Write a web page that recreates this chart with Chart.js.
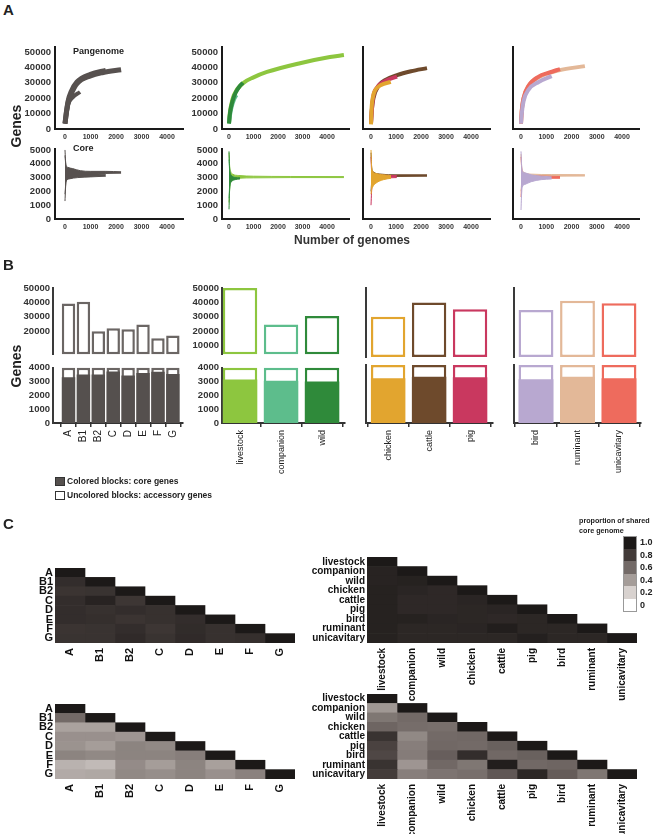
<!DOCTYPE html>
<html>
<head>
<meta charset="utf-8">
<script src="https://cdn.jsdelivr.net/npm/chart.js@4.4.0/dist/chart.umd.min.js"></script>
<style>
body{margin:0;background:#fff;width:654px;height:834px;position:relative;overflow:hidden;font-family:"Liberation Sans",Arial,sans-serif;}
canvas{position:absolute;}
.t{position:absolute;font-weight:bold;color:#222;white-space:nowrap;line-height:1;}
.rot{transform:translate(-50%,-50%) rotate(-90deg);}
.sw{position:absolute;box-sizing:border-box;}
</style>
</head>
<body>
<script>
// ---------- panel A: accumulation curves ----------
const genomeTicks = [0, 1000, 2000, 3000, 4000];
const panTicks = [0, 10000, 20000, 30000, 40000, 50000];
const coreTicks = [0, 1000, 2000, 3000, 4000, 5000];

// pangenome points: [genomes, genes]
const panPhyloA = [[0,3500],[50,10000],[120,17000],[250,23000],[470,29500],[1000,34500],[1500,36700],[2200,38500]];
const panPhyloB = [[0,3500],[50,10500],[120,18000],[250,24500],[470,30500],[1000,35500],[1600,38000]];
const panPhyloC = [[0,3500],[50,9000],[130,16000],[300,20500],[590,24000]];
const panLivestock = [[0,3600],[30,10000],[80,15000],[200,22000],[570,29700],[1000,33500],[1550,37000],[2900,42700],[4120,46700],[4690,48000]];
const panCompanion = [[0,3600],[40,9000],[100,14000],[200,19000],[300,22000]];
const panWild = [[0,3600],[30,9000],[80,14000],[200,21000],[400,27000],[570,30000]];
const panChicken = [[0,3000],[30,15000],[80,21000],[160,25000],[400,28500],[790,30600]];
const panCattle = [[0,3600],[30,12000],[100,20000],[300,28000],[600,32000],[1040,35000],[1600,37500],[2240,39500]];
const panPig = [[0,3600],[30,11000],[80,20000],[250,27000],[560,31000],[1040,34000]];
const panBird = [[0,3500],[30,10000],[100,18000],[300,25500],[700,30500],[1215,34300]];
const panRuminant = [[0,3500],[30,12000],[100,20000],[300,28000],[700,33500],[1500,38000],[2530,40800]];
const panUnicavitary = [[0,3500],[30,12000],[100,20000],[300,28000],[700,34000],[1100,36500],[1545,38900]];

// core genome bands: [genomes, low, high]
const corePhyloA = [[0,1300,5000],[15,2000,4400],[40,2700,3900],[100,2900,3750],[300,3000,3650],[600,3150,3500],[1000,3250,3450],[1600,3300,3450],[2200,3320,3420]];
const corePhyloB = [[0,1800,4600],[40,2700,3800],[150,2900,3600],[500,3000,3400],[1000,3050,3300],[1600,3100,3250]];
const coreLivestock = [[0,1200,4800],[20,2000,4000],[60,2600,3500],[150,2850,3250],[400,2950,3150],[1000,2980,3100],[2500,3000,3080],[4690,3000,3070]];
const coreCompanion = [[0,1500,4300],[30,2500,3400],[100,2800,3100],[250,2900,3020]];
const coreWild = [[0,700,4900],[15,1700,4000],[40,2400,3400],[100,2700,3150],[250,2850,3000],[450,2900,2980]];
const coreChicken = [[0,1800,5000],[20,2100,3900],[60,2300,3500],[200,2600,3300],[500,2850,3200],[800,2950,3150]];
const coreCattle = [[0,2000,4800],[30,2700,3700],[100,2950,3400],[400,3050,3250],[1000,3080,3200],[2240,3100,3200]];
const corePig = [[0,1000,4500],[20,1900,3600],[80,2700,3300],[300,2900,3200],[700,2980,3150],[1030,3000,3150]];
const coreBird = [[0,650,4900],[15,1500,4200],[50,2300,3500],[150,2500,3350],[400,2700,3200],[800,2850,3100],[1215,2900,3050]];
const coreRuminant = [[0,2000,4700],[30,2700,3700],[100,2950,3400],[400,3050,3250],[1200,3100,3220],[2530,3110,3210]];
const coreUnicavitary = [[0,1600,4500],[30,2500,3600],[100,2800,3300],[400,2900,3150],[1000,2950,3100],[1545,2950,3080]];

// ---------- panel B: gene counts ----------
const phylogroups = ['A','B1','B2','C','D','E','F','G'];
const phyloPan = [39300, 40400, 20000, 22000, 21300, 24700, 15100, 17100];
const phyloCore = [3310, 3500, 3500, 3720, 3430, 3610, 3700, 3540];
const hostGroups = ['livestock','companion','wild'];
const hostPan = [50000, 24700, 30500];
const hostCore = [3150, 3060, 3010];
const livestockGroups = ['chicken','cattle','pig'];
const livestockPan = [30900, 40400, 35800];
const livestockCore = [3080, 3190, 3150];
const gutGroups = ['bird','ruminant','unicavitary'];
const gutPan = [35300, 41500, 39800];
const gutCore = [3010, 3190, 3080];
const upperTicksPhylo = [20000, 30000, 40000, 50000];
const upperTicksHost = [10000, 20000, 30000, 40000, 50000];
const lowerTicks = [0, 1000, 2000, 3000, 4000];

// ---------- panel C: proportion of shared core genome (lower triangles) ----------
const hostRows = ['livestock','companion','wild','chicken','cattle','pig','bird','ruminant','unicavitary'];
const phyloShared1 = [
  [1],
  [0.88, 1],
  [0.84, 0.85, 1],
  [0.88, 0.94, 0.83, 1],
  [0.88, 0.86, 0.88, 0.86, 1],
  [0.88, 0.87, 0.84, 0.86, 0.88, 1],
  [0.84, 0.85, 0.88, 0.83, 0.89, 0.86, 1],
  [0.85, 0.85, 0.90, 0.85, 0.90, 0.86, 0.87, 1]
];
const phyloShared2 = [
  [1],
  [0.60, 1],
  [0.38, 0.38, 1],
  [0.45, 0.45, 0.43, 1],
  [0.44, 0.40, 0.50, 0.48, 1],
  [0.50, 0.48, 0.50, 0.50, 0.52, 1],
  [0.32, 0.29, 0.47, 0.40, 0.50, 0.39, 1],
  [0.35, 0.36, 0.48, 0.46, 0.50, 0.45, 0.51, 1]
];
const hostShared1 = [
  [1],
  [0.94, 1],
  [0.94, 0.95, 1],
  [0.95, 0.93, 0.91, 1],
  [0.95, 0.91, 0.91, 0.93, 1],
  [0.95, 0.91, 0.91, 0.92, 0.93, 1],
  [0.95, 0.95, 0.93, 0.92, 0.91, 0.92, 1],
  [0.95, 0.92, 0.92, 0.93, 0.97, 0.92, 0.92, 1],
  [0.95, 0.92, 0.92, 0.92, 0.92, 0.96, 0.92, 0.92, 1]
];
const hostShared2 = [
  [1],
  [0.42, 1],
  [0.55, 0.60, 1],
  [0.62, 0.59, 0.58, 1],
  [0.85, 0.48, 0.60, 0.61, 1],
  [0.77, 0.52, 0.61, 0.60, 0.64, 1],
  [0.75, 0.53, 0.65, 0.88, 0.61, 0.64, 1],
  [0.85, 0.43, 0.61, 0.55, 0.97, 0.61, 0.62, 1],
  [0.80, 0.52, 0.56, 0.58, 0.68, 0.92, 0.66, 0.55, 1]
];
const legendLevels = [1.0, 0.8, 0.6, 0.4, 0.2, 0];

// ---------- colours ----------
const cPhyloLine = '#57514f', cPhyloFill = '#55504e', cPhyloEdge = '#6b6664';
const cLivestock = '#8dc63f', cCompanion = '#5dbd8c', cWild = '#2f8a3a';
const cChicken = '#e2a52f', cCattle = '#6e4a2c', cPig = '#c9385f';
const cBird = '#b8a8d0', cRuminant = '#e3b898', cUnicavitary = '#ee6b5d';

const FONT = '"Liberation Sans", Arial, sans-serif';
Chart.defaults.font.family = FONT;
Chart.defaults.color = '#222';
Chart.defaults.plugins.legend.display = false;
Chart.defaults.plugins.tooltip.enabled = false;

// canvas placed so that its chart area lands on plot = [left, top, right, bottom]
function canvasAt(plot, m) {
  const c = document.createElement('canvas');
  const w = plot[2] - plot[0] + m[0] + m[2];
  const h = plot[3] - plot[1] + m[1] + m[3];
  c.width = w; c.height = h;
  c.style.left = (plot[0] - m[0]) + 'px';
  c.style.top = (plot[1] - m[1]) + 'px';
  c.style.width = w + 'px'; c.style.height = h + 'px';
  document.body.appendChild(c);
  return c;
}

function toXY(pts) { return pts.map(p => ({x: p[0], y: p[1]})); }

function panLine(pts, col, width, order) {
  return {data: toXY(pts), borderColor: col, borderWidth: width, fill: false, order: order};
}

function coreBand(pts, col, order) {
  return [
    {data: pts.map(p => ({x: p[0], y: p[1]})), borderColor: col, borderWidth: 1, fill: false, order: order},
    {data: pts.map(p => ({x: p[0], y: p[2]})), borderColor: col, borderWidth: 1, backgroundColor: col, fill: '-1', order: order}
  ];
}

function curveChart(plot, m, xr, yMax, yTicks, showY, datasets) {
  new Chart(canvasAt(plot, m), {
    type: 'line',
    data: {datasets: datasets},
    options: {
      responsive: false, animation: false,
      layout: {padding: {left: 0, top: m[1], right: m[2], bottom: 0}},
      elements: {point: {radius: 0}, line: {cubicInterpolationMode: 'monotone'}},
      scales: {
        x: {
          type: 'linear', min: xr[0], max: xr[1], offset: false,
          afterBuildTicks: s => { s.ticks = genomeTicks.map(v => ({value: v})); },
          afterFit: s => { s.height = m[3]; },
          grid: {display: false, drawTicks: false},
          border: {display: true, color: '#1a1a1a', width: 2},
          ticks: {padding: 4, color: '#333', font: {size: 7, weight: 'bold'}, maxRotation: 0, autoSkip: false, callback: v => String(v)}
        },
        y: {
          type: 'linear', min: 0, max: yMax,
          afterBuildTicks: s => { s.ticks = yTicks.map(v => ({value: v})); },
          afterFit: s => { s.width = m[0]; },
          grid: {display: false, drawTicks: false},
          border: {display: true, color: '#1a1a1a', width: 2},
          ticks: {display: showY, padding: 4, color: '#333', font: {size: 9.5, weight: 'bold'}, autoSkip: false, callback: v => String(v)}
        }
      }
    }
  });
}

const breakAt = 4000;

function barGroup(upPlot, lowPlot, mUp, mLow, xr, names, pan, core, fillCols, edgeCols, upTicks, showY, frac, labelSize) {
  const xBase = {
    type: 'linear', min: xr[0], max: xr[1], offset: false
  };
  new Chart(canvasAt(upPlot, mUp), {
    type: 'bar',
    data: {datasets: [{
      data: pan.map((v, i) => ({x: i, y: [breakAt, v]})),
      backgroundColor: '#fff', borderColor: edgeCols, borderWidth: 2.5, borderSkipped: false,
      clip: false, barPercentage: frac, categoryPercentage: 1
    }]},
    options: {
      responsive: false, animation: false,
      layout: {padding: {left: 0, top: mUp[1], right: mUp[2], bottom: 0}},
      scales: {
        x: Object.assign({}, xBase, {
          afterFit: s => { s.height = mUp[3]; },
          grid: {display: false, drawTicks: false}, border: {display: false}, ticks: {display: false}
        }),
        y: {
          type: 'linear', min: breakAt, max: 50000,
          afterBuildTicks: s => { s.ticks = upTicks.map(v => ({value: v})); },
          afterFit: s => { s.width = mUp[0]; },
          grid: {display: false, drawTicks: false},
          border: {display: true, color: '#3a3a3a', width: 2},
          ticks: {display: showY, padding: 3, color: '#333', font: {size: 9.5, weight: 'bold'}, autoSkip: false, callback: v => String(v)}
        }
      }
    }
  });
  new Chart(canvasAt(lowPlot, mLow), {
    type: 'bar',
    data: {datasets: [
      {data: core.map((v, i) => ({x: i, y: [0, v]})), backgroundColor: fillCols, borderWidth: 0,
       grouped: false, barPercentage: frac, categoryPercentage: 1},
      {data: core.map((v, i) => ({x: i, y: [0, breakAt]})), backgroundColor: '#fff', borderColor: edgeCols,
       borderWidth: 2.5, borderSkipped: false, grouped: false, clip: false, barPercentage: frac, categoryPercentage: 1}
    ]},
    options: {
      responsive: false, animation: false,
      layout: {padding: {left: 0, top: mLow[1], right: mLow[2], bottom: 0}},
      scales: {
        x: Object.assign({}, xBase, {
          afterBuildTicks: s => { s.ticks = names.map((n, i) => ({value: i})); },
          afterFit: s => { s.height = mLow[3]; },
          grid: {display: true, drawOnChartArea: false, drawTicks: true, tickLength: 4, color: '#333', lineWidth: 1.5},
          border: {display: true, color: '#333', width: 2},
          ticks: {padding: 3, color: '#222', font: {size: labelSize}, minRotation: 90, maxRotation: 90, autoSkip: false,
                  callback: v => names[Math.round(v)]}
        }),
        y: {
          type: 'linear', min: 0, max: breakAt,
          afterBuildTicks: s => { s.ticks = lowerTicks.map(v => ({value: v})); },
          afterFit: s => { s.width = mLow[0]; },
          grid: {display: false, drawTicks: false},
          border: {display: true, color: '#3a3a3a', width: 2},
          ticks: {display: showY, padding: 3, color: '#333', font: {size: 9.5, weight: 'bold'}, autoSkip: false, callback: v => String(v)}
        }
      }
    }
  });
}

// grey ramp through the colour-bar stops
const rampStops = [[0, [255,255,255]], [0.2, [216,210,207]], [0.4, [165,157,153]], [0.6, [115,106,103]], [0.8, [67,59,57]], [1, [28,25,24]]];
function shade(v) {
  for (let k = 1; k < rampStops.length; k++) {
    if (v <= rampStops[k][0]) {
      const a = rampStops[k-1], b = rampStops[k];
      const t = (v - a[0]) / (b[0] - a[0]);
      const c = a[1].map((x, i) => Math.round(x + (b[1][i] - x) * t));
      return 'rgb(' + c.join(',') + ')';
    }
  }
  return 'rgb(28,25,24)';
}

function heatmap(plot, m, rows, vals, fontSize) {
  const datasets = rows.map((col, j) => ({
    data: rows.map((r, i) => i >= j ? [j, j + 1] : null),
    backgroundColor: rows.map((r, i) => i >= j ? shade(vals[i][j]) : 'rgba(0,0,0,0)'),
    borderWidth: 0, grouped: false, barPercentage: 1, categoryPercentage: 1
  }));
  new Chart(canvasAt(plot, m), {
    type: 'bar',
    data: {labels: rows, datasets: datasets},
    options: {
      indexAxis: 'y', responsive: false, animation: false,
      layout: {padding: {left: 0, top: m[1], right: m[2], bottom: 0}},
      scales: {
        x: {
          type: 'linear', min: 0, max: rows.length,
          afterBuildTicks: s => { s.ticks = rows.map((r, j) => ({value: j + 0.5})); },
          afterFit: s => { s.height = m[3]; },
          grid: {display: false, drawTicks: false}, border: {display: false},
          ticks: {padding: 5, color: '#111', font: {size: fontSize, weight: 'bold'}, minRotation: 90, maxRotation: 90,
                  autoSkip: false, callback: (v, i) => rows[i]}
        },
        y: {
          afterFit: s => { s.width = m[0]; },
          grid: {display: false, drawTicks: false}, border: {display: false},
          ticks: {padding: 2, color: '#111', font: {size: fontSize, weight: 'bold'}, autoSkip: false}
        }
      }
    }
  });
}

// ---------- panel A ----------
const topRow = [47, 129], botRow = [149, 219];
const colsA = [[55, 183, -392, 4627, 55], [222, 349, -286, 4898, 42], [363, 490, -320, 4760, 10], [513, 639, -317, 4673, 10]];
const panSets = [
  [panLine(panPhyloC, cPhyloLine, 4, 3), panLine(panPhyloB, cPhyloLine, 5, 2), panLine(panPhyloA, cPhyloLine, 5, 1)],
  [panLine(panLivestock, cLivestock, 4, 3), panLine(panCompanion, cCompanion, 4, 2), panLine(panWild, cWild, 4, 1)],
  [panLine(panCattle, cCattle, 4, 3), panLine(panPig, cPig, 4, 2), panLine(panChicken, cChicken, 4, 1)],
  [panLine(panRuminant, cRuminant, 4, 3), panLine(panUnicavitary, cUnicavitary, 4, 2), panLine(panBird, cBird, 4, 1)]
];
const coreSets = [
  [].concat(coreBand(corePhyloB, cPhyloLine, 2), coreBand(corePhyloA, cPhyloLine, 1)),
  [].concat(coreBand(coreLivestock, cLivestock, 3), coreBand(coreCompanion, cCompanion, 2), coreBand(coreWild, cWild, 1)),
  [].concat(coreBand(coreCattle, cCattle, 3), coreBand(corePig, cPig, 2), coreBand(coreChicken, cChicken, 1)),
  [].concat(coreBand(coreRuminant, cRuminant, 3), coreBand(coreUnicavitary, cUnicavitary, 2), coreBand(coreBird, cBird, 1))
];
colsA.forEach((c, k) => {
  curveChart([c[0], topRow[0], c[1], topRow[1]], [c[4], 10, 8, 16], [c[2], c[3]], 53200, panTicks, k < 2, panSets[k]);
  curveChart([c[0], botRow[0], c[1], botRow[1]], [c[4], 10, 8, 16], [c[2], c[3]], 5070, coreTicks, k < 2, coreSets[k]);
});

// ---------- panel B ----------
const upY = [288, 357], lowY = [365, 423];
barGroup([53, upY[0], 183, upY[1]], [53, lowY[0], 183, lowY[1]], [53, 10, 8, 6], [53, 6, 8, 70], [-1.04, 7.68],
  phylogroups, phyloPan, phyloCore, phylogroups.map(() => cPhyloFill), phylogroups.map(() => cPhyloEdge), upperTicksPhylo, true, 0.9, 10);
barGroup([222, upY[0], 345, upY[1]], [222, lowY[0], 345, lowY[1]], [45, 10, 8, 6], [45, 6, 8, 70], [-0.44, 2.56],
  hostGroups, hostPan, hostCore, [cLivestock, cCompanion, cWild], [cLivestock, cCompanion, cWild], upperTicksHost, true, 0.84, 9);
barGroup([366, upY[0], 493, upY[1]], [366, lowY[0], 493, lowY[1]], [10, 10, 8, 6], [10, 6, 8, 70], [-0.54, 2.56],
  livestockGroups, livestockPan, livestockCore, [cChicken, cCattle, cPig], [cChicken, cCattle, cPig], [], false, 0.84, 9);
barGroup([514, upY[0], 641, upY[1]], [514, lowY[0], 641, lowY[1]], [10, 10, 8, 6], [10, 6, 8, 70], [-0.53, 2.53],
  gutGroups, gutPan, gutCore, [cBird, cRuminant, cUnicavitary], [cBird, cRuminant, cUnicavitary], [], false, 0.84, 9);

// ---------- panel C ----------
heatmap([55, 568, 295, 643], [55, 10, 10, 45], phylogroups, phyloShared1, 11);
heatmap([55, 704, 295, 779], [55, 10, 10, 45], phylogroups, phyloShared2, 11);
heatmap([367, 557, 637, 643], [75, 10, 10, 70], hostRows, hostShared1, 10);
heatmap([367, 694, 637, 779], [75, 10, 10, 56], hostRows, hostShared2, 10);

// ---------- text and keys ----------
function text(html, x, y, size, cls, extra) {
  const d = document.createElement('div');
  d.className = 't' + (cls ? ' ' + cls : '');
  d.innerHTML = html;
  d.style.left = x + 'px'; d.style.top = y + 'px'; d.style.fontSize = size + 'px';
  if (extra) Object.assign(d.style, extra);
  document.body.appendChild(d);
  return d;
}
function swatch(x, y, w, h, bg, border) {
  const d = document.createElement('div');
  d.className = 'sw';
  Object.assign(d.style, {left: x + 'px', top: y + 'px', width: w + 'px', height: h + 'px', background: bg, border: border});
  document.body.appendChild(d);
}

text('A', 3, 2, 15);
text('B', 3, 257, 15);
text('C', 3, 516, 15);
text('Pangenome', 73, 47, 9);
text('Core', 73, 144, 9);
text('Genes', 16, 126, 14, 'rot');
text('Genes', 16, 366, 14, 'rot');
text('Number of genomes', 352, 240, 12, null, {transform: 'translate(-50%,-50%)', color: '#333'});

swatch(55, 477, 10, 9, '#55504e', '1px solid #333');
text('Colored blocks: core genes', 67, 477, 8.5);
swatch(55, 491, 10, 9, '#fff', '1px solid #333');
text('Uncolored blocks: accessory genes', 67, 491, 8.5);

text('proportion of shared<br>core genome', 579, 516, 7.2, null, {lineHeight: '10px'});
legendLevels.forEach((v, k) => {
  swatch(623, 536 + k * 12.5, 13, 12.5, shade(v), 'none');
  text(v === 0 ? '0' : v.toFixed(1), 640, 538 + k * 12.5, 9);
});
swatch(622.5, 535.5, 14, 76, 'transparent', '1px solid #999');
</script>
</body>
</html>
